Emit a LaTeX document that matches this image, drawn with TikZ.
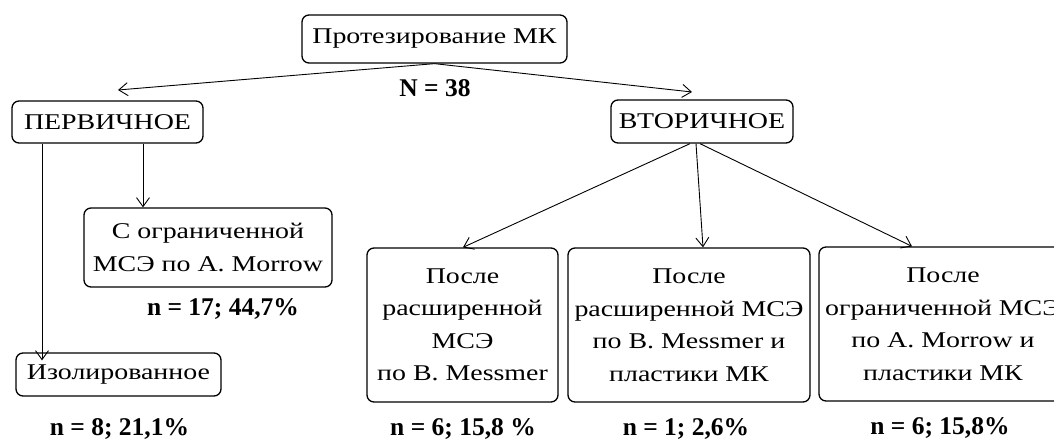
\documentclass[tikz,border=0pt]{standalone}
\usepackage{fontspec}
\setmainfont[FakeStretch=1.24]{Liberation Serif}
\newfontfamily\lblfont{Liberation Serif}
\usetikzlibrary{arrows.meta}
\begin{document}
\begin{tikzpicture}[x=1pt,y=-1pt,
  box/.style={draw=black, line width=1.3pt, rounded corners=7pt, inner sep=0pt, align=center,
    font=\fontsize{22.5}{32.5}\selectfont},
  lbl/.style={font=\lblfont\fontsize{25.5}{30}\selectfont\bfseries, inner sep=0pt},
  arr/.style={line width=0.9pt, -{Straight Barb[length=9pt,width=13pt,line width=0.9pt]}}
]
\useasboundingbox (0,0) rectangle (1054,442);
\fill[white] (0,0) rectangle (1054,442);

\node[box, minimum width=265pt, minimum height=48pt] (top) at (434.5,39) {Протезирование МК};
\node[lbl] (N) at (435,88) {N = 38};

\node[box, minimum width=191pt, minimum height=42pt] (perv) at (107.5,122) {ПЕРВИЧНОЕ};
\node[box, minimum width=182pt, minimum height=43pt] (vtor) at (702,121.5) {ВТОРИЧНОЕ};

\node[box, minimum width=248pt, minimum height=79pt] (morrow) at (208,247.5) {С ограниченной\\МСЭ по А. Morrow};
\node[lbl] (l17) at (223,309) {n = 17; 44,7\%};

\node[box, minimum width=205pt, minimum height=43pt] (izol) at (118.5,374.5) {Изолированное};
\node[lbl] (l8) at (119.5,429) {n = 8; 21,1\%};

\node[box, minimum width=191pt, minimum height=154pt] (b1) at (462.5,325) {После\\расширенной\\МСЭ\\по B. Messmer};
\node[box, minimum width=242pt, minimum height=154pt] (b2) at (689,325) {После\\расширенной МСЭ\\по B. Messmer и\\пластики МК};
\node[box, minimum width=248pt, minimum height=154pt] (b3) at (943,324) {После\\ограниченной МСЭ\\по А. Morrow  и\\пластики МК};

\node[lbl] (l6a) at (463,429) {n = 6; 15,8 \%};
\node[lbl] (l1) at (686,429) {n = 1; 2,6\%};
\node[lbl] (l6b) at (940,428) {n = 6; 15,8\%};

% connectors
\coordinate (pa) at (118,90);
\coordinate (va) at (692,92);
\draw[arr] (top.south) -- (pa);
\draw[arr] (top.south) -- (va);

\coordinate (ps1) at ([xshift=-65.5pt]perv.south);
\coordinate (ps2) at ([xshift=35.5pt]perv.south);
\coordinate (iz) at ([yshift=-8pt]izol.north);
\draw[arr] (ps1) -- (iz -| ps1);
\draw[arr] (ps2) -- (morrow.north -| ps2);

\draw[arr] ([xshift=-12pt]vtor.south) -- ([xshift=0.5pt]b1.north);
\draw[arr] ([xshift=-6pt]vtor.south) -- ([xshift=14pt]b2.north);
\draw[arr] ([xshift=-2pt]vtor.south) -- ([xshift=-31pt]b3.north);
\end{tikzpicture}
\end{document}
